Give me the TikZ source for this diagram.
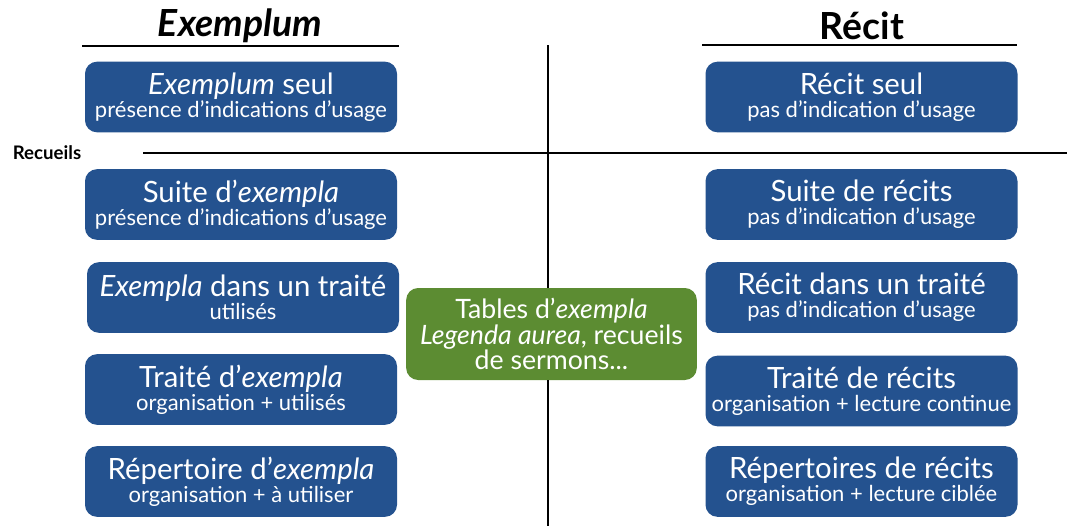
\documentclass[tikz,border=0pt]{standalone}
\usepackage{fontspec}
\setmainfont{Lato}
\usetikzlibrary{positioning}
\definecolor{boxblue}{RGB}{36,82,143}
\definecolor{boxgreen}{RGB}{92,140,50}
\newcommand{\subline}[1]{{\fontsize{16.5}{17}\selectfont #1}}
\tikzset{box/.style={rectangle, rounded corners=9pt, fill=boxblue, text=white, minimum width=234pt, minimum height=53pt, inner sep=0pt, align=center, font=\fontsize{22}{17}\selectfont},
greenbox/.style={box, fill=boxgreen, minimum width=218pt, minimum height=69pt, font=\fontsize{20}{19}\selectfont},
title/.style={font=\fontsize{28}{32}\selectfont\bfseries},
rule/.style={line width=1.6pt}}

\begin{document}
\begin{tikzpicture}[x=0.75pt, y=-0.75pt]
\useasboundingbox (0,0) rectangle (1067,526);

% titres
\node(texemplum) at (240, 26) [title] {\textit{Exemplum}};
\node(trecit) at (862, 26) [title] {Récit};
\node(recueils) at (47, 153) [font=\fontsize{14}{16}\selectfont\bfseries] {Recueils};

% colonne exemplum
\node(exseul) at (241, 97) [box] {\textit{Exemplum} seul\\\subline{présence d’indications d’usage}};
\node(exsuite) at (241, 204.5) [box] {Suite d’\textit{exempla}\\\subline{présence d’indications d’usage}};
\node(extraite) at (243, 297.5) [box] {\textit{Exempla} dans un traité\\\subline{utilisés}};
\node(exorga) at (241, 389.5) [box] {Traité d’\textit{exempla}\\\subline{organisation + utilisés}};
\node(exrep) at (241, 481.5) [box] {Répertoire d’\textit{exempla}\\\subline{organisation + à utiliser}};

% colonne recit
\node(reseul) at (861.5, 97) [box] {Récit seul\\\subline{pas d’indication d’usage}};
\node(resuite) at (861.5, 204.5) [box] {Suite de récits\\\subline{pas d’indication d’usage}};
\node(retraite) at (861.5, 297.5) [box] {Récit dans un traité\\\subline{pas d’indication d’usage}};
\node(reorga) at (861.5, 391) [box] {Traité de récits\\\subline{organisation + lecture continue}};
\node(rerep) at (861.5, 481.5) [box] {Répertoires de récits\\\subline{organisation + lecture ciblée}};

% tables
\node(tables) at (551.5, 334) [greenbox] {Tables d’\textit{exempla}\\\textit{Legenda aurea}, recueils\\de sermons...};

% axes
\coordinate(vtop) at (548, 45);
\coordinate(vbot) at (548, 526);
\coordinate(hleft) at (143, 153);
\coordinate(hright) at (1067, 153);
\draw[rule] (vtop) -- (tables.north -| vtop);
\draw[rule] (tables.south -| vtop) -- (vbot);
\draw[rule] (hleft) -- (hright);
\draw[rule] (82, 46) -- (399, 46);
\draw[rule] (702, 45) -- (1017, 45);
\end{tikzpicture}
\end{document}
